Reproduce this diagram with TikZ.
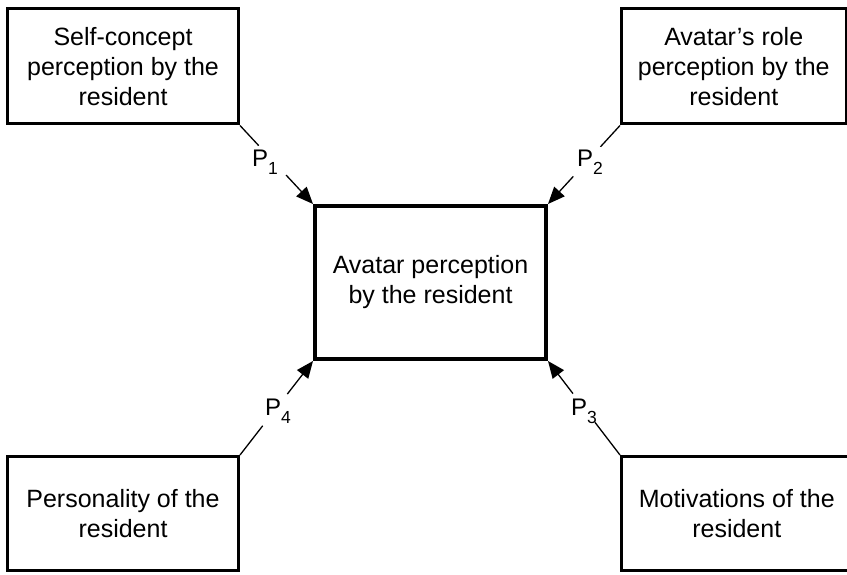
\documentclass[tikz,border=0pt]{standalone}
\usepackage{fontspec}
\setmainfont{Liberation Sans}
\usetikzlibrary{arrows.meta}
\newcommand\lblsub[1]{\raisebox{-8pt}{\fontsize{17.5}{17.5}\selectfont #1}}
\begin{document}
\begin{tikzpicture}[x=1pt,y=1pt,
  box/.style={draw, line width=3pt, align=center, inner sep=0pt,
    font=\fontsize{25}{30}\selectfont},
  mainbox/.style={box, line width=4pt},
  conn/.style={line width=1.3pt, -{Triangle[length=17pt,width=14pt]}},
  gapc/.style={circle, fill=white, minimum size=40pt, inner sep=0pt},
  plab/.style={anchor=base west, inner sep=0pt, font=\fontsize{24}{24}\selectfont}]
\useasboundingbox (0,0) rectangle (847,574);
\clip (0,0) rectangle (847,574);
\node[box, minimum width=231pt, minimum height=115pt] (tl) at (123,507.5)
  {Self-concept\\perception by the\\resident};
\node[box, minimum width=224.5pt, minimum height=115pt] (tr) at (733.75,507.5)
  {Avatar's role\\perception by the\\resident};
\node[box, minimum width=231pt, minimum height=113.5pt] (bl) at (123,60.75)
  {Personality of the\\resident};
\node[box, minimum width=230.5pt, minimum height=113.5pt] (br) at (736.75,60.75)
  {Motivations of the\\resident};
\node[mainbox, minimum width=231pt, minimum height=153pt] (c) at (430.5,291.5)
  {Avatar perception\\by the resident};
\draw[conn] (tl.south east) -- node[gapc, pos=0.444] (g1) {} (c.north west);
\draw[conn] (tr.south west) -- node[gapc, pos=0.46] (g2) {} (c.north east);
\draw[conn] (br.north west) -- node[gapc, pos=0.50, minimum size=36pt] (g3) {} (c.south east);
\draw[conn] (bl.north east) -- node[gapc, pos=0.48] (g4) {} (c.south west);
\node[plab] (p1) at (252,407) {P\lblsub{1}};
\node[plab] (p2) at (577,407) {P\lblsub{2}};
\node[plab] (p3) at (571,159) {P\lblsub{3}};
\node[plab] (p4) at (265,159) {P\lblsub{4}};
\end{tikzpicture}
\end{document}
